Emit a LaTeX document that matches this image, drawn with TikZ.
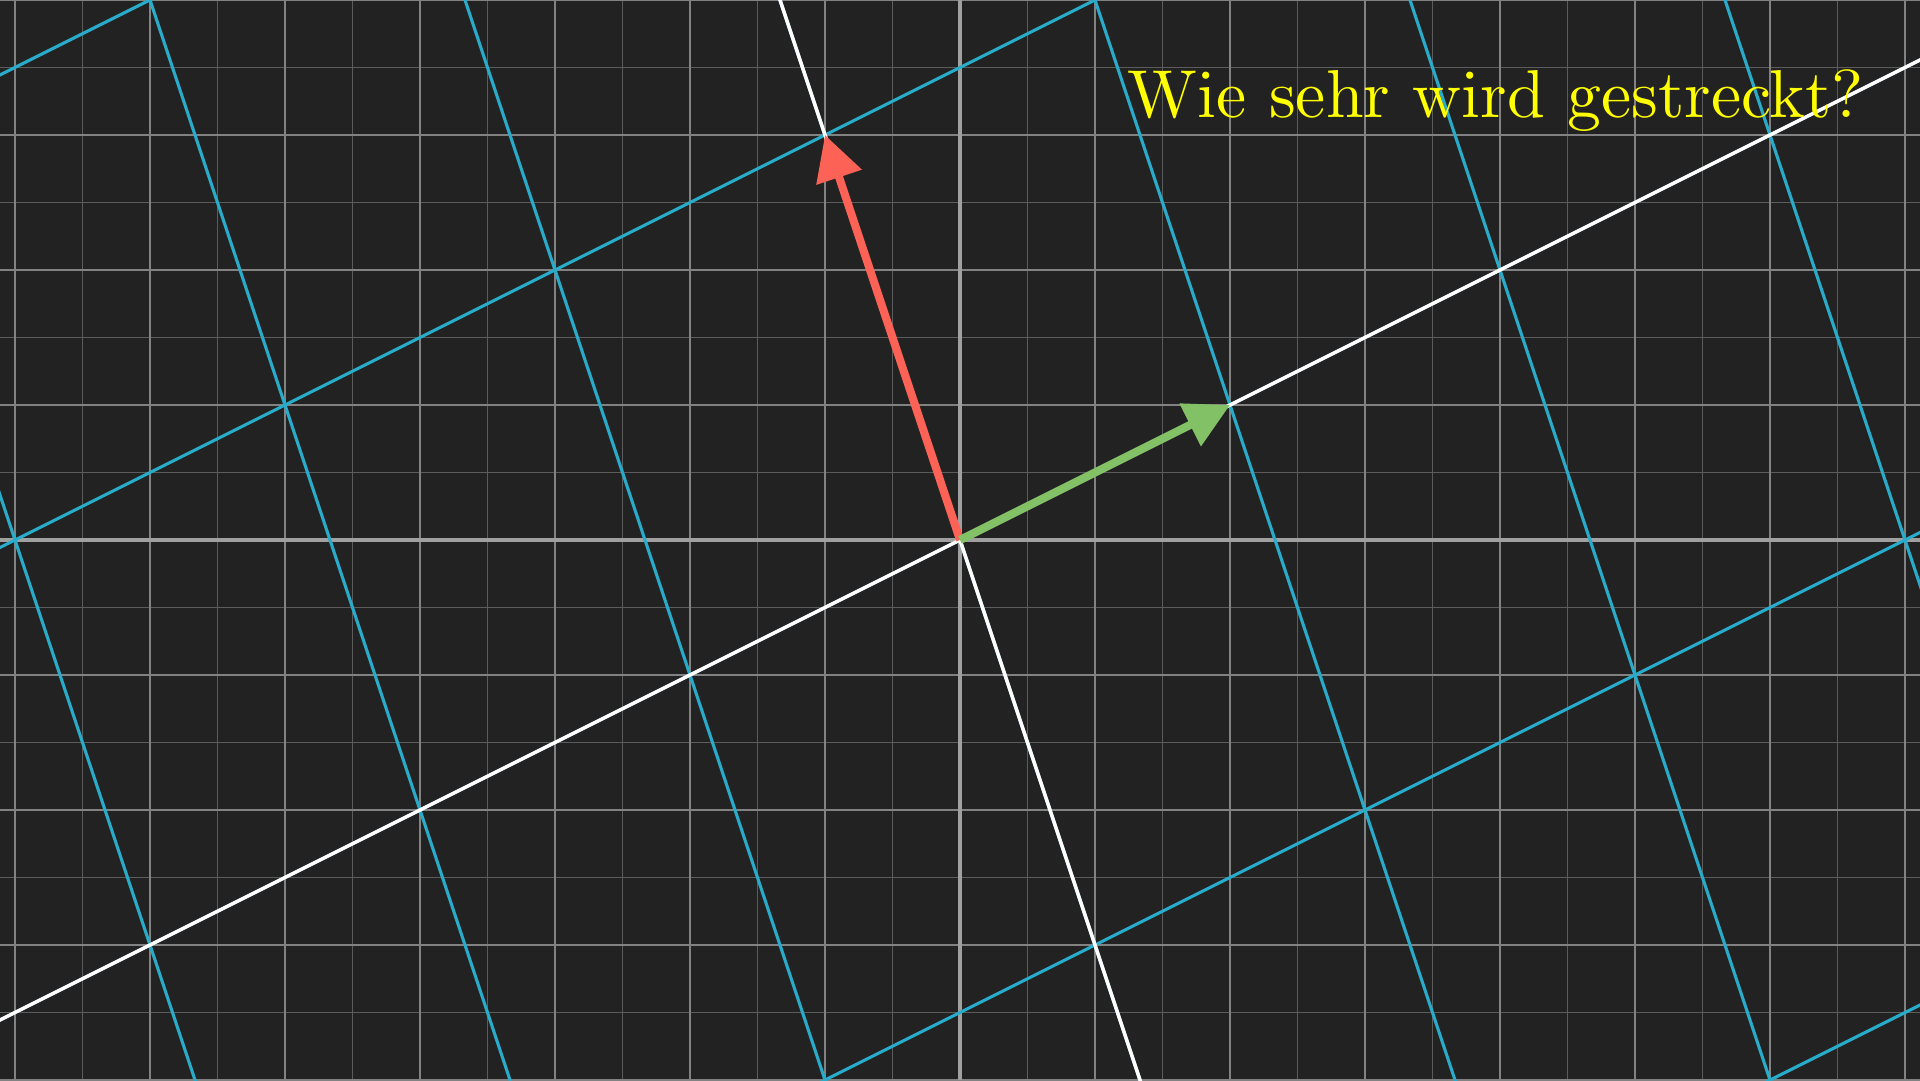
\documentclass[tikz,border=0pt]{standalone}
\usepackage{tikz}
\usepackage{xcolor}
\usetikzlibrary{arrows.meta}
\definecolor{cBg}{HTML}{222222}
\definecolor{cGrid}{HTML}{828282}
\definecolor{cHalf}{HTML}{5c5c5c}
\definecolor{cAxis}{HTML}{a0a0a0}
\definecolor{cBlue}{HTML}{29ABCA}
\definecolor{cGreen}{HTML}{83C167}
\definecolor{cRed}{HTML}{FC6255}
\definecolor{cYellow}{HTML}{FFFF00}
\font\askfont=cmr10 at 14.3pt
\tikzset{
  halfline/.style={cHalf,line width=.4pt},
  gridline/.style={cGrid,line width=.45pt},
  axisline/.style={cAxis,line width=.7pt},
  tgrid/.style={cBlue,line width=.65pt},
  taxis/.style={white,line width=.75pt},
  vecarrow/.style={-{Triangle[length=3.3mm,width=3.4mm]},line width=1.7pt},
  question/.style={cYellow,inner sep=0pt,anchor=base west,font=\askfont},
}

\begin{document}
\begin{tikzpicture}
  \useasboundingbox (-7.111,-4) rectangle (7.111,4);
  \fill[cBg] (-7.111,-4) rectangle (7.111,4);
  \clip (-7.111,-4) rectangle (7.111,4);
  % background plane
  \foreach \x in {-7.5,-6.5,...,7.5}{\draw[halfline] (\x,-4) -- (\x,4);}
  \foreach \y in {-3.5,-2.5,...,3.5}{\draw[halfline] (-7.2,\y) -- (7.2,\y);}
  \foreach \x in {-7,...,7}{\draw[gridline] (\x,-4) -- (\x,4);}
  \foreach \y in {-4,...,4}{\draw[gridline] (-7.2,\y) -- (7.2,\y);}
  \draw[axisline] (-7.2,0) -- (7.2,0);
  \draw[axisline] (0,-4) -- (0,4);
  % transformed plane
  \begin{scope}[cm={2,1,-1,3,(0,0)}]
    \foreach \i in {-4,...,4}{\draw[tgrid] (\i,-4) -- (\i,4);}
    \foreach \j in {-3,...,3}{\draw[tgrid] (-6,\j) -- (6,\j);}
    \draw[taxis] (0,-4) -- (0,4);
    \draw[taxis] (-6,0) -- (6,0);
  \end{scope}
  % basis vectors
  \coordinate (O) at (0,0);
  \coordinate (ihat) at (2,1);
  \coordinate (jhat) at (-1,3);
  \draw[vecarrow,cRed] (O) -- (jhat);
  \draw[vecarrow,cGreen] (O) -- (ihat);
  \node[question] (ask) at (1.237,3.133) {Wie sehr wird gestreckt?};
\end{tikzpicture}
\end{document}
